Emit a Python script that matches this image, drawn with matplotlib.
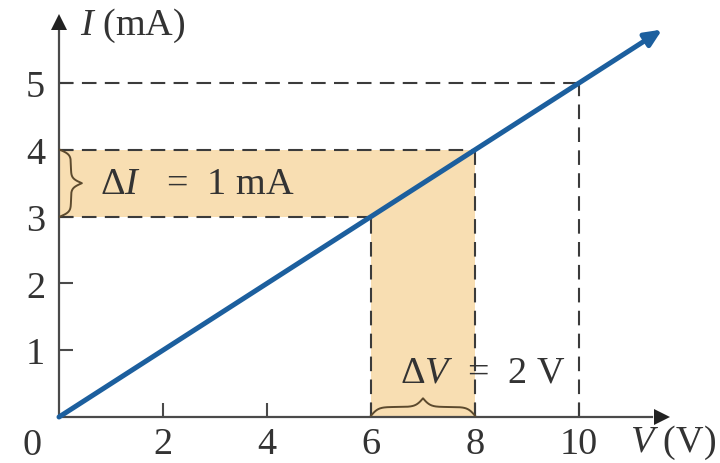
import numpy as np
import matplotlib
matplotlib.use("Agg")
from matplotlib import pyplot as plt

plt.rcParams['font.family'] = ['Liberation Serif', 'DejaVu Serif']
plt.rcParams['mathtext.fontset'] = 'custom'
plt.rcParams['mathtext.rm'] = 'Liberation Serif'
plt.rcParams['mathtext.it'] = 'Liberation Serif:italic'

# 数据
voltage = np.array([0.0, 11.6])       # V
current = voltage / 2.0               # mA, R = 2 kOhm
x_ticks = [2, 4, 6, 8, 10]
y_ticks = [1, 2, 3, 4, 5]
v_pair = (6, 8)                       # ΔV
i_pair = (3, 4)                       # ΔI
ref_point = (10, 5)

line_c = '#1c5f9e'
shade_c = '#f8deb2'
dash_c = '#3b3b3b'
axis_c = '#4a4a4a'
brace_c = '#5c4a2e'
fs = 27.5


def brace(x0, x1, h, n=201):
    # 花括号: 沿 [x0, x1] 的曲线, 中间尖点高 h
    half = (x1 - x0) / 2
    beta = 14.0 / half
    u = np.linspace(0, half, n // 2 + 1)
    yh = 1 / (1 + np.exp(-beta * u)) + 1 / (1 + np.exp(-beta * (u - half))) - 0.5
    y = np.concatenate((yh, yh[-2::-1]))
    x = np.linspace(x0, x1, len(y))
    return x, y * h


fig = plt.figure(figsize=(7.2, 4.64), dpi=100)
ax = fig.add_axes([0, 0, 1, 1])
ax.set_xlim(-59 / 52, (720 - 59) / 52)
ax.set_ylim(-46 / 66.8, 418 / 66.8)

# 阴影区域
ax.fill_between([0, v_pair[1]], i_pair[0], i_pair[1], color=shade_c, lw=0, zorder=1)
ax.fill_between(list(v_pair), 0, i_pair[1], color=shade_c, lw=0, zorder=1)

# 虚线
ls = (0, (7, 4))
for (vx, iy) in [ref_point, (v_pair[1], i_pair[1]), (v_pair[0], i_pair[0])]:
    ax.plot([0, vx], [iy, iy], color=dash_c, lw=1.5, ls=ls, zorder=2)
    ax.plot([vx, vx], [0, iy], color=dash_c, lw=1.5, ls=ls, zorder=2)

# 坐标轴
for s in ['top', 'right']:
    ax.spines[s].set_visible(False)
ax.spines['left'].set_position(('data', 0))
ax.spines['bottom'].set_position(('data', 0))
ax.spines['left'].set_bounds(0, 5.8)
ax.spines['bottom'].set_bounds(0, 11.4)
for s in ['left', 'bottom']:
    ax.spines[s].set_color(axis_c)
    ax.spines[s].set_linewidth(1.6)
    ax.spines[s].set_zorder(3)
ax.plot(11.6, 0, marker='>', ms=12, color='#222222', clip_on=False, zorder=4,
        markeredgewidth=0)
ax.plot(0, 5.92, marker='^', ms=12, color='#222222', clip_on=False, zorder=4,
        markeredgewidth=0)

ax.set_xticks(x_ticks)
ax.set_yticks(y_ticks)
ax.set_xticklabels([str(t) for t in x_ticks])
ax.set_yticklabels([str(t) for t in y_ticks])
ax.tick_params(direction='in', length=10, width=1.5, color=axis_c,
               labelsize=fs, labelcolor='#333333')
ax.tick_params(axis='x', pad=7)
ax.tick_params(axis='y', pad=10)
ax.text(-0.52, -0.41, '0', fontsize=fs, color='#333333', ha='center', va='center')

# 直线
ax.annotate('', xy=(voltage[1], current[1]), xytext=(voltage[0], current[0]),
            arrowprops=dict(arrowstyle='-|>,head_length=1.0,head_width=0.45',
                            color=line_c, lw=3.6, shrinkA=0, shrinkB=0),
            zorder=5)

# 花括号
bx, by = brace(i_pair[0], i_pair[1], 0.42)
ax.plot(by + 0.02, bx, color=brace_c, lw=1.4, zorder=4)
bx, by = brace(v_pair[0], v_pair[1], 0.26)
ax.plot(bx, by + 0.02, color=brace_c, lw=1.4, zorder=4)

# 文字
ax.text(0.4, 5.87, r'$I$ (mA)', fontsize=fs, color='#333333', va='center')
ax.text(10.98, -0.37, r'$V$ (V)', fontsize=fs, color='#333333', va='center')
ax.text(0.79, 3.49, r'$\Delta I$   =  1 mA', fontsize=fs, color='#333333', va='center')
ax.text(6.56, 0.67, r'$\Delta V$  =  2 V', fontsize=fs, color='#333333', va='center')

fig.savefig('out.png', dpi=100)
